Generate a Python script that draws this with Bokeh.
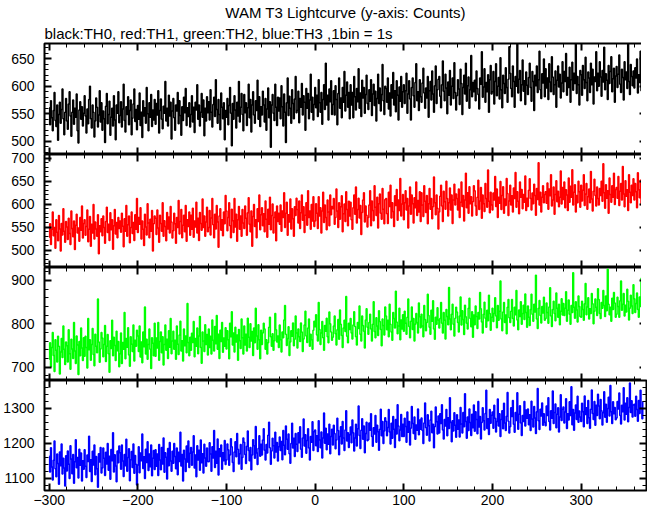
from bokeh.plotting import figure
from bokeh.layouts import column
from bokeh.models import LinearAxis, FixedTicker, Range1d, Title
from bokeh.embed import file_html
from bokeh.resources import INLINE

# ---------------- data (counts per 1 s bin, starting at t = -300 s) ----------------
T_START = -300

th0 = [
    561, 530, 574, 543, 519, 556, 589, 538, 527, 566, 502, 549, 571, 533, 558, 595, 541, 512, 553, 578,
    537, 522, 568, 590, 546, 509, 553, 575, 531, 560, 544, 586, 519, 497, 557, 572, 540, 563, 528, 551,
    583, 546, 515, 559, 532, 576, 600, 541, 524, 566, 553, 508, 537, 579, 562, 526, 548, 592, 535, 570,
    520, 555, 541, 498, 564, 587, 532, 549, 573, 511, 544, 560, 528, 583, 539, 503, 566, 551, 590, 534,
    547, 572, 526, 559, 604, 538, 517, 563, 549, 581, 530, 556, 575, 512, 542, 568, 595, 536, 558, 521,
    565, 540, 588, 529, 553, 507, 574, 546, 561, 533, 598, 550, 519, 570, 544, 585, 527, 557, 539, 576,
    531, 569, 548, 592, 515, 556, 577, 540, 523, 564, 551, 609, 537, 560, 528, 584, 546, 571, 504, 555,
    578, 543, 520, 566, 555, 589, 532, 574, 547, 511, 563, 538, 580, 552, 596, 529, 561, 545, 570, 526,
    549, 583, 535, 562, 516, 571, 557, 603, 540, 566, 528, 553, 587, 544, 575, 510, 560, 537, 581, 552,
    572, 539, 594, 553, 526, 567, 580, 545, 612, 558, 533, 576, 549, 521, 588, 562, 541, 570, 503, 556,
    544, 578, 530, 565, 598, 551, 492, 569, 540, 583, 557, 524, 571, 546, 609, 535, 562, 587, 549, 519,
    585, 552, 570, 529, 561, 604, 543, 576, 517, 566, 590, 548, 533, 574, 556, 611, 540, 581, 527, 563,
    548, 591, 566, 535, 578, 520, 559, 597, 543, 572, 489, 566, 585, 551, 538, 604, 562, 529, 580, 555,
    579, 541, 601, 563, 528, 586, 553, 498, 570, 615, 547, 582, 560, 533, 594, 569, 541, 577, 618, 552,
    556, 591, 534, 578, 562, 605, 548, 583, 571, 520, 596, 560, 587, 541, 575, 622, 553, 580, 539, 567,
    598, 561, 584, 545, 612, 570, 553, 589, 531, 576, 603, 558, 642, 566, 584, 539, 595, 572, 610, 549,
    567, 592, 548, 601, 576, 530, 587, 615, 560, 579, 543, 598, 571, 627, 555, 584, 608, 562, 589, 541,
    603, 566, 589, 543, 618, 581, 557, 596, 572, 632, 560, 588, 545, 611, 579, 598, 551, 585, 620, 569,
    558, 594, 573, 612, 547, 586, 604, 565, 591, 537, 578, 622, 569, 597, 555, 585, 640, 574, 549, 600,
    596, 571, 615, 559, 588, 546, 603, 579, 625, 566, 592, 554, 610, 584, 539, 599, 573, 618, 562, 590,
    603, 569, 592, 624, 551, 586, 610, 577, 539, 598, 615, 583, 562, 607, 641, 574, 590, 556, 612, 581,
    571, 606, 633, 588, 560, 597, 579, 618, 544, 592, 609, 575, 628, 586, 553, 601, 637, 569, 594, 613,
    618, 582, 561, 603, 646, 591, 574, 622, 597, 550, 608, 584, 629, 566, 600, 615, 578, 643, 589, 557,
    583, 612, 595, 567, 631, 605, 549, 598, 620, 586, 642, 573, 601, 617, 560, 594, 656, 581, 607, 590,
    611, 574, 628, 596, 585, 559, 615, 604, 663, 580, 599, 632, 571, 607, 590, 621, 553, 612, 638, 586,
    590, 627, 568, 609, 641, 583, 600, 616, 577, 652, 594, 561, 620, 605, 587, 634, 598, 571, 613, 672,
    624, 596, 581, 637, 609, 562, 618, 600, 679, 588, 613, 629, 574, 603, 648, 591, 610, 567, 626, 602,
    585, 616, 642, 598, 573, 627, 609, 556, 620, 601, 637, 589, 612, 664, 594, 578, 623, 606, 650, 581,
    632, 597, 615, 576, 641, 608, 590, 654, 617, 585, 603, 628, 562, 611, 637, 599, 622, 579, 606, 645,
    590, 627, 609, 660, 584, 616, 598, 635, 571, 612, 644, 593, 624, 605, 680, 587, 618, 603, 566, 629,
    621, 584, 638, 612, 596, 653, 607, 574, 626, 615, 589, 642, 603, 631, 568, 617, 609, 663, 592, 624,
    600, 645, 617, 582, 629, 608, 671, 594, 623, 611, 576, 638, 605, 627, 654, 590, 614, 633, 571, 619,
    636, 598, 622, 657, 604, 589, 631, 616, 575, 645, 612, 626, 596, 683, 609, 585, 640, 618, 601, 628,
    597, 634, 615, 650, 588, 621, 607, 664, 592, 627, 613,
]

th1 = [
    528, 557, 512, 545, 583, 531, 549, 504, 566, 539, 520, 575, 546, 498, 558, 533, 590, 541, 517, 562,
    550, 523, 569, 536, 512, 585, 547, 529, 563, 501, 554, 578, 537, 548, 519, 571, 543, 596, 526, 558,
    566, 532, 551, 587, 518, 545, 573, 508, 556, 537, 599, 524, 561, 546, 530, 577, 492, 553, 540, 568,
    531, 574, 549, 515, 562, 593, 538, 556, 521, 581, 544, 566, 502, 553, 588, 535, 560, 527, 571, 547,
    563, 539, 580, 552, 507, 568, 541, 597, 530, 555, 574, 516, 549, 583, 536, 560, 521, 577, 545, 612,
    538, 571, 556, 592, 524, 563, 545, 510, 578, 550, 533, 601, 559, 527, 567, 541, 586, 498, 557, 574,
    569, 534, 587, 548, 517, 576, 558, 541, 603, 530, 564, 551, 520, 582, 546, 572, 537, 595, 561, 526,
    542, 580, 557, 515, 571, 549, 608, 535, 562, 588, 527, 554, 576, 540, 597, 519, 566, 551, 583, 532,
    576, 545, 591, 528, 563, 550, 604, 537, 569, 521, 582, 558, 543, 611, 549, 574, 530, 561, 593, 540,
    549, 586, 533, 570, 612, 555, 527, 578, 546, 597, 561, 506, 574, 590, 543, 566, 531, 583, 557, 619,
    585, 542, 571, 603, 553, 527, 589, 564, 538, 612, 550, 578, 519, 566, 595, 545, 574, 530, 588, 559,
    547, 596, 569, 532, 581, 614, 556, 540, 585, 508, 573, 599, 551, 566, 527, 590, 562, 620, 544, 577,
    592, 553, 579, 540, 607, 567, 528, 589, 556, 615, 544, 575, 600, 537, 571, 583, 520, 596, 562, 580,
    556, 598, 541, 585, 571, 625, 549, 580, 604, 532, 577, 561, 611, 546, 590, 568, 530, 594, 575, 613,
    588, 559, 607, 547, 581, 620, 565, 594, 538, 576, 603, 554, 629, 571, 585, 545, 599, 563, 616, 551,
    563, 601, 580, 547, 616, 574, 592, 537, 585, 626, 560, 598, 571, 544, 609, 583, 553, 620, 577, 595,
    590, 612, 556, 571, 633, 585, 549, 603, 567, 594, 618, 540, 579, 600, 562, 627, 588, 553, 606, 574,
    604, 566, 545, 592, 620, 578, 637, 559, 588, 613, 570, 597, 534, 582, 609, 625, 561, 596, 576, 550,
    571, 598, 629, 553, 607, 586, 564, 640, 593, 575, 615, 548, 601, 622, 580, 567, 634, 589, 557, 610,
    612, 579, 558, 626, 595, 641, 570, 603, 584, 551, 618, 597, 632, 565, 609, 586, 656, 574, 600, 621,
    566, 603, 629, 587, 612, 548, 596, 637, 578, 620, 601, 559, 614, 592, 648, 575, 608, 583, 627, 562,
    625, 598, 573, 640, 606, 582, 619, 557, 601, 634, 589, 612, 568, 594, 659, 603, 577, 620, 591, 546,
    583, 617, 641, 596, 562, 628, 605, 589, 650, 612, 574, 603, 635, 587, 620, 558, 609, 643, 598, 622,
    612, 587, 633, 571, 604, 648, 595, 619, 563, 609, 667, 592, 625, 580, 638, 601, 616, 574, 605, 640,
    629, 596, 576, 615, 652, 588, 607, 636, 569, 620, 601, 584, 645, 612, 593, 674, 606, 581, 626, 598,
    587, 624, 609, 660, 595, 633, 571, 615, 602, 649, 588, 619, 638, 580, 611, 597, 656, 623, 575, 607,
    641, 598, 618, 583, 635, 612, 669, 593, 627, 606, 579, 648, 615, 632, 590, 621, 604, 661, 586, 613,
    595, 630, 655, 612, 587, 624, 601, 643, 619, 576, 634, 610, 690, 598, 626, 583, 615, 640, 603, 621,
    627, 602, 646, 589, 633, 618, 664, 596, 609, 637, 578, 621, 651, 605, 628, 594, 615, 672, 600, 636,
    610, 648, 592, 631, 620, 586, 657, 604, 639, 615, 675, 598, 626, 642, 583, 619, 603, 650, 627, 593,
    641, 607, 630, 664, 597, 622, 645, 589, 616, 633, 603, 671, 611, 585, 628, 654, 619, 596, 637, 612,
    598, 634, 619, 650, 606, 688, 625, 591, 642, 613, 629, 580, 657, 621, 604, 640, 615, 667, 599, 632,
    636, 613, 660, 597, 628, 645, 609, 682, 622, 594, 651, 617, 631, 586, 664, 626, 603, 641, 619, 655,
    609, 645, 627, 592, 668, 631, 614, 652, 598, 637, 623,
]

th2 = [
    718, 756, 701, 745, 780, 727, 690, 763, 739, 712, 771, 748, 684, 735, 766, 722, 795, 741, 706, 758,
    749, 712, 786, 731, 695, 764, 742, 720, 803, 737, 708, 772, 751, 683, 759, 726, 790, 744, 715, 768,
    725, 771, 745, 698, 812, 740, 763, 716, 752, 789, 729, 703, 776, 748, 733, 857, 758, 711, 742, 780,
    767, 724, 752, 796, 713, 748, 775, 731, 688, 761, 743, 808, 726, 769, 750, 715, 783, 738, 759, 701,
    731, 779, 708, 757, 741, 826, 719, 766, 746, 791, 728, 702, 770, 753, 736, 797, 714, 762, 748, 785,
    772, 736, 795, 723, 758, 710, 781, 747, 839, 730, 764, 718, 752, 788, 741, 697, 768, 755, 726, 801,
    725, 767, 744, 803, 716, 759, 781, 733, 770, 705, 752, 797, 739, 764, 720, 784, 746, 812, 731, 760,
    783, 741, 762, 718, 795, 753, 729, 774, 806, 737, 761, 714, 788, 749, 772, 733, 847, 757, 726, 769,
    739, 778, 757, 805, 724, 766, 748, 790, 731, 772, 817, 745, 709, 781, 760, 736, 798, 752, 775, 728,
    788, 745, 771, 730, 809, 762, 737, 794, 754, 819, 741, 776, 720, 785, 759, 803, 734, 767, 748, 791,
    742, 784, 763, 719, 801, 770, 828, 751, 779, 735, 792, 758, 774, 716, 787, 761, 743, 811, 768, 730,
    795, 751, 776, 737, 813, 769, 745, 800, 760, 782, 727, 790, 756, 836, 772, 741, 798, 763, 719, 785,
    752, 779, 801, 788, 741, 763, 730, 756, 792, 815, 770, 748, 777, 739, 761, 824, 786, 758, 772, 745,
    797, 763, 735, 781, 768, 809, 842, 776, 750, 766, 793, 727, 758, 784, 771, 802, 749, 764, 818, 779,
    744, 788, 770, 759, 802, 781, 736, 765, 797, 829, 772, 757, 790, 811, 748, 776, 763, 741, 785, 806,
    793, 821, 774, 760, 849, 787, 752, 779, 805, 768, 739, 796, 783, 813, 770, 756, 827, 800, 781, 762,
    769, 795, 818, 777, 751, 786, 810, 764, 832, 799, 773, 745, 790, 808, 782, 863, 771, 756, 801, 787,
    812, 779, 765, 797, 828, 794, 770, 751, 803, 789, 841, 776, 760, 818, 796, 783, 744, 809, 835, 792,
    776, 803, 822, 788, 760, 799, 851, 782, 768, 814, 795, 773, 830, 805, 787, 749, 811, 796, 774, 839,
    818, 786, 808, 770, 845, 799, 781, 762, 826, 812, 790, 875, 804, 777, 795, 836, 763, 809, 788, 821,
    783, 829, 801, 776, 815, 857, 794, 768, 806, 839, 787, 812, 760, 799, 824, 803, 779, 848, 816, 791,
    822, 795, 770, 842, 810, 784, 803, 868, 819, 792, 776, 831, 806, 853, 788, 764, 815, 799, 837, 809,
    790, 812, 849, 801, 779, 826, 808, 765, 833, 817, 798, 884, 811, 786, 822, 845, 799, 772, 813, 838,
    827, 803, 781, 818, 862, 797, 830, 810, 775, 843, 816, 801, 788, 836, 859, 812, 793, 828, 769, 820,
    798, 841, 817, 789, 826, 811, 872, 835, 804, 779, 822, 850, 813, 792, 831, 807, 866, 824, 785, 815,
    836, 805, 824, 860, 818, 791, 842, 808, 829, 899, 811, 784, 827, 849, 803, 820, 777, 838, 856, 814,
    803, 829, 856, 812, 795, 838, 821, 877, 809, 786, 832, 817, 851, 799, 824, 843, 810, 869, 826, 792,
    841, 815, 796, 833, 868, 822, 806, 845, 827, 912, 811, 789, 836, 854, 819, 802, 840, 825, 861, 808,
    812, 848, 826, 801, 839, 883, 818, 794, 833, 852, 824, 807, 871, 836, 815, 845, 798, 829, 858, 820,
    847, 819, 836, 874, 806, 831, 855, 822, 799, 842, 826, 918, 838, 813, 851, 832, 804, 864, 840, 817,
    815, 852, 833, 808, 846, 893, 821, 839, 860, 811, 835, 824, 870, 846, 800, 829, 857, 838, 819, 881,
    856, 824, 812, 849, 836, 877, 842, 817, 864, 830, 926, 845, 821, 838, 806, 859, 833, 872, 848, 815,
    822, 861, 840, 815, 853, 899, 831, 845, 870, 818, 843, 827, 880, 852, 809, 836, 866, 841, 824, 890,
    858, 826, 847, 871, 833, 815, 862, 840, 905, 829, 851,
]

th3 = [
    1163, 1118, 1187, 1132, 1095, 1151, 1206, 1127, 1104, 1169, 1142, 1083, 1175, 1136, 1198, 1112, 1157, 1129, 1078, 1164,
    1121, 1178, 1140, 1099, 1193, 1155, 1113, 1168, 1086, 1147, 1210, 1130, 1159, 1101, 1183, 1137, 1172, 1092, 1150, 1126,
    1181, 1134, 1102, 1166, 1148, 1220, 1119, 1153, 1091, 1177, 1138, 1195, 1110, 1162, 1127, 1074, 1170, 1146, 1188, 1115,
    1129, 1186, 1157, 1108, 1174, 1141, 1199, 1123, 1163, 1097, 1182, 1150, 1230, 1118, 1167, 1135, 1090, 1178, 1144, 1192,
    1173, 1126, 1195, 1149, 1105, 1168, 1136, 1211, 1120, 1159, 1184, 1093, 1153, 1176, 1131, 1198, 1114, 1165, 1140, 1081,
    1138, 1190, 1116, 1172, 1150, 1226, 1128, 1161, 1099, 1183, 1145, 1204, 1122, 1169, 1133, 1195, 1107, 1157, 1179, 1125,
    1181, 1134, 1169, 1108, 1196, 1152, 1124, 1188, 1141, 1215, 1117, 1173, 1160, 1098, 1185, 1136, 1202, 1149, 1120, 1177,
    1143, 1199, 1162, 1127, 1186, 1110, 1174, 1148, 1231, 1135, 1168, 1092, 1180, 1155, 1119, 1192, 1146, 1206, 1131, 1171,
    1188, 1137, 1175, 1221, 1129, 1166, 1104, 1193, 1152, 1180, 1123, 1209, 1144, 1170, 1115, 1197, 1158, 1134, 1186, 1148,
    1147, 1201, 1169, 1120, 1190, 1158, 1236, 1131, 1177, 1143, 1212, 1109, 1184, 1162, 1195, 1126, 1173, 1150, 1208, 1139,
    1152, 1198, 1181, 1137, 1166, 1213, 1190, 1145, 1119, 1175, 1204, 1161, 1228, 1183, 1141, 1170, 1196, 1126, 1159, 1215,
    1203, 1168, 1142, 1191, 1235, 1179, 1150, 1188, 1124, 1166, 1210, 1193, 1157, 1248, 1172, 1139, 1185, 1221, 1163, 1197,
    1166, 1209, 1241, 1180, 1152, 1196, 1172, 1223, 1260, 1187, 1140, 1178, 1214, 1193, 1158, 1231, 1175, 1202, 1149, 1190,
    1218, 1179, 1205, 1153, 1236, 1194, 1167, 1249, 1211, 1183, 1226, 1170, 1143, 1199, 1257, 1186, 1214, 1162, 1228, 1197,
    1176, 1230, 1201, 1247, 1183, 1160, 1215, 1269, 1192, 1224, 1171, 1208, 1241, 1186, 1152, 1219, 1203, 1261, 1179, 1233,
    1238, 1193, 1221, 1176, 1264, 1209, 1187, 1232, 1158, 1215, 1286, 1200, 1243, 1181, 1226, 1197, 1254, 1170, 1219, 1240,
    1195, 1251, 1228, 1184, 1209, 1271, 1236, 1167, 1219, 1247, 1198, 1262, 1215, 1179, 1238, 1293, 1206, 1230, 1188, 1224,
    1246, 1201, 1266, 1230, 1178, 1215, 1254, 1192, 1241, 1306, 1222, 1185, 1237, 1270, 1211, 1249, 1173, 1228, 1260, 1207,
    1210, 1258, 1237, 1284, 1219, 1191, 1244, 1226, 1279, 1203, 1251, 1233, 1180, 1240, 1297, 1221, 1262, 1199, 1235, 1273,
    1263, 1221, 1245, 1296, 1232, 1198, 1257, 1214, 1276, 1240, 1188, 1268, 1226, 1310, 1249, 1207, 1238, 1282, 1219, 1254,
    1219, 1271, 1248, 1203, 1289, 1231, 1262, 1195, 1243, 1305, 1256, 1228, 1275, 1211, 1252, 1237, 1298, 1224, 1266, 1240,
    1272, 1236, 1199, 1258, 1315, 1244, 1223, 1281, 1250, 1206, 1266, 1291, 1230, 1254, 1187, 1247, 1303, 1261, 1226, 1278,
    1229, 1284, 1256, 1310, 1238, 1212, 1268, 1249, 1296, 1221, 1273, 1242, 1330, 1259, 1204, 1264, 1235, 1287, 1251, 1217,
    1281, 1240, 1266, 1218, 1302, 1255, 1229, 1288, 1247, 1341, 1262, 1214, 1275, 1236, 1298, 1259, 1222, 1283, 1244, 1309,
    1234, 1290, 1268, 1227, 1319, 1246, 1276, 1212, 1259, 1301, 1264, 1238, 1285, 1351, 1242, 1270, 1225, 1296, 1257, 1280,
    1289, 1243, 1308, 1271, 1232, 1262, 1326, 1249, 1284, 1219, 1268, 1293, 1241, 1314, 1258, 1236, 1277, 1345, 1263, 1229,
    1247, 1301, 1276, 1322, 1254, 1231, 1288, 1265, 1344, 1240, 1283, 1307, 1258, 1222, 1279, 1262, 1319, 1249, 1295, 1271,
    1298, 1253, 1281, 1236, 1320, 1269, 1246, 1305, 1272, 1228, 1290, 1356, 1264, 1239, 1297, 1278, 1315, 1251, 1284, 1260,
    1250, 1306, 1279, 1330, 1262, 1238, 1293, 1271, 1349, 1256, 1288, 1312, 1244, 1283, 1301, 1232, 1275, 1338, 1265, 1297,
    1303, 1258, 1289, 1327, 1242, 1284, 1266, 1318, 1279, 1361, 1253, 1296, 1237, 1286, 1309, 1268, 1334, 1260, 1292, 1275,
    1262, 1314, 1290, 1247, 1335, 1282, 1301, 1256, 1322, 1273, 1243, 1297, 1352, 1285, 1268, 1319, 1251, 1308, 1279, 1340,
    1306, 1270, 1325, 1293, 1252, 1287, 1347, 1274, 1311, 1260, 1299, 1331, 1278, 1365, 1290, 1256, 1318, 1284, 1302, 1267,
    1272, 1319, 1298, 1343, 1279, 1255, 1308, 1290, 1358, 1266, 1314, 1283, 1330, 1261, 1302, 1372, 1288, 1321, 1275, 1309,
    1311, 1277, 1334, 1296, 1263, 1322, 1285, 1351, 1300, 1270, 1318,
]

series = [th0, th1, th2, th3]
colors = ["#000000", "#ff0000", "#00ff00", "#0000ff"]

title_text = "WAM T3 Lightcurve (y-axis: Counts)"
subtitle_text = "black:TH0, red:TH1, green:TH2, blue:TH3 ,1bin = 1s"

x_limits = (-305.3, 373.7)
x_major = [-300, -200, -100, 0, 100, 200, 300]
x_minor = list(range(-300, 380, 20))

y_limits = [(476, 678), (462, 708), (669, 930), (1065, 1379)]
y_major = [[500, 550, 600, 650], [500, 550, 600, 650, 700], [700, 800, 900], [1100, 1200, 1300]]
y_minor = [list(range(480, 681, 10)), list(range(470, 711, 10)),
           list(range(680, 931, 20)), list(range(1080, 1381, 20))]

# ---------------- styling ----------------
FONT = "Liberation Sans"
frame_heights = [111, 113, 113, 110]
OVERLAP = 7   # transparent strip that lets a top tick label reach over the panel above


def style_axis(ax, major, minor, show_labels, standoff=10):
    ax.ticker = FixedTicker(ticks=major, minor_ticks=minor)
    ax.axis_line_color = None
    ax.major_tick_in = 7
    ax.major_tick_out = 0
    ax.minor_tick_in = 4
    ax.minor_tick_out = 0
    ax.major_tick_line_width = 2
    ax.minor_tick_line_width = 1
    ax.major_tick_line_color = "black"
    ax.minor_tick_line_color = "black"
    if show_labels:
        ax.major_label_text_font = FONT
        ax.major_label_text_font_size = "14px"
        ax.major_label_text_color = "black"
        ax.major_label_standoff = standoff
    else:
        # tick marks only: the labels are switched off
        ax.major_label_text_font_size = "0px"
        ax.major_label_text_color = None
        ax.major_label_standoff = 0


x_range = Range1d(*x_limits)
figs = []
n = len(series)
for i, (vals, col) in enumerate(zip(series, colors)):
    top = 40 if i == 0 else OVERLAP
    bottom = 20 if i == n - 1 else 0
    extra = {}
    if i > 0:
        extra["styles"] = {"margin-top": f"-{OVERLAP}px"}
    p = figure(frame_width=602, frame_height=frame_heights[i],
               x_range=x_range, y_range=Range1d(*y_limits[i]),
               x_axis_location=None, y_axis_location=None,
               output_backend="svg", toolbar_location=None,
               min_border_left=38, min_border_right=1,
               min_border_top=top, min_border_bottom=bottom, **extra)
    p.xgrid.visible = False
    p.ygrid.visible = False
    p.outline_line_color = "black"
    p.outline_line_width = 2
    p.background_fill_color = "white"
    p.border_fill_color = "white" if i == 0 else None

    left = LinearAxis()
    style_axis(left, y_major[i], y_minor[i], True, standoff=10)
    p.add_layout(left, "left")
    right = LinearAxis()
    style_axis(right, y_major[i], y_minor[i], False)
    p.add_layout(right, "right")

    below = LinearAxis()
    style_axis(below, x_major, x_minor, i == n - 1, standoff=4)
    p.add_layout(below, "below")
    above = LinearAxis()
    style_axis(above, x_major, x_minor, False)
    p.add_layout(above, "above")

    if i == 0:
        sub = Title(text=subtitle_text, align="left", text_font=FONT,
                    text_font_size="15px", text_font_style="normal",
                    text_color="black", standoff=3, offset=0)
        main = Title(text=title_text, align="center", text_font=FONT,
                     text_font_size="15px", text_font_style="normal",
                     text_color="black", standoff=2)
        p.add_layout(sub, "above")
        p.add_layout(main, "above")

    xs = list(range(T_START, T_START + len(vals)))
    p.step(xs, vals, mode="center", line_color=col, line_width=1.5)
    figs.append(p)

layout = column(*figs, spacing=0)
open("out.html", "w").write(file_html(layout, INLINE))
